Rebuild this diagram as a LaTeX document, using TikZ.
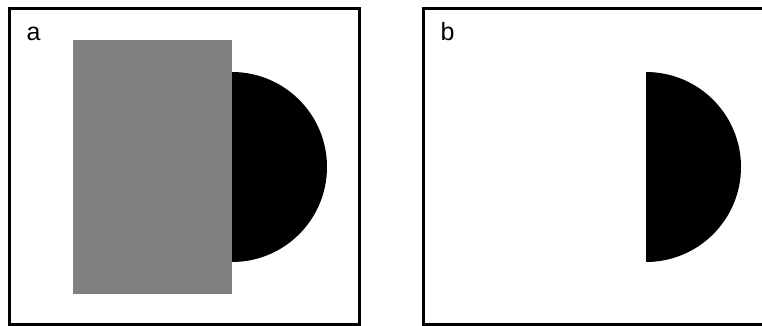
\documentclass[tikz,border=0pt]{standalone}
\usepackage{fontspec}
\setmainfont{Liberation Sans}
\usepackage{tikz}
\tikzset{panel/.style={draw=black, line width=3pt}}
\tikzset{tag/.style={anchor=base west, inner sep=0pt, font=\fontsize{25}{25}\selectfont}}

\begin{document}
\begin{tikzpicture}[x=1pt, y=-1pt]
                    \useasboundingbox (0,0) rectangle (762,326);

                    % panel a
                    \draw[panel] (9.5,8.5) rectangle (359,324.7);
                    \node[tag] (la) at (26.5,40.3) {a};
                    \fill[black] (232,167) circle (95);
                    \fill[black!50] (73,40) rectangle (232,293.5);

                    % panel b
                    \draw[panel] (423,8.5) rectangle (764,324.7);
                    \node[tag] (lb) at (440.3,40.8) {b};
                    \fill[black] (646,72) arc (-90:90:95) -- cycle;

                \end{tikzpicture}
\end{document}
